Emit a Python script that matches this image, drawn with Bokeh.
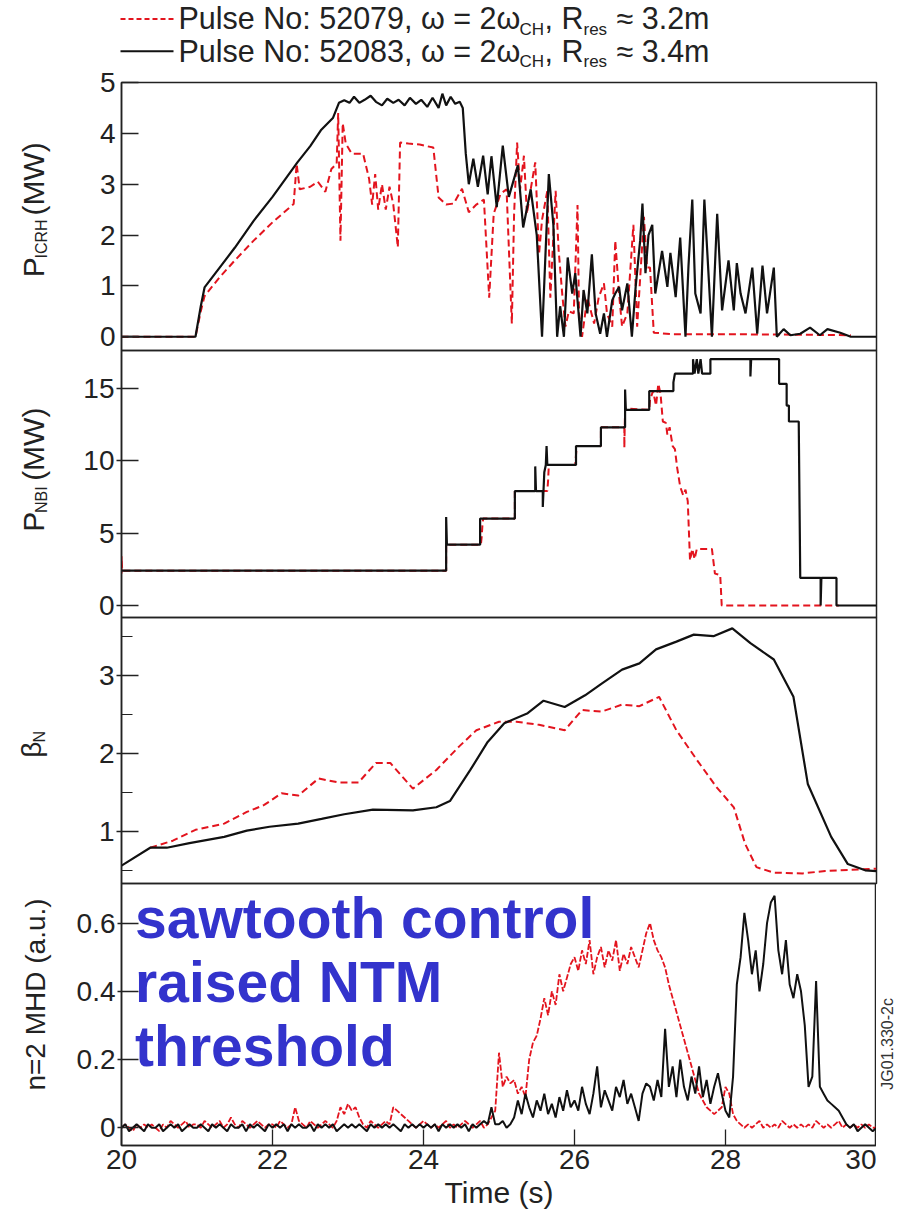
import numpy as np
from bokeh.plotting import figure
from bokeh.layouts import column, row
from bokeh.models import Range1d, FixedTicker, CustomJSTickFormatter
from bokeh.core.properties import value
from bokeh.embed import file_html
from bokeh.resources import INLINE

# ---------------- data ----------------
# P_ICRH (MW)
icrh_b_t = [20.0, 20.98, 21.05, 21.1, 21.3, 21.5, 21.75, 22.0, 22.33, 22.5, 22.64, 22.8, 22.88, 22.95,
            23.02, 23.08, 23.15, 23.22, 23.3, 23.37, 23.45, 23.52, 23.6, 23.67, 23.75, 23.82, 23.9, 23.97,
            24.05, 24.12, 24.2, 24.25, 24.3, 24.36, 24.42, 24.48, 24.52, 24.56, 24.6, 24.66, 24.72, 24.79,
            24.85, 24.9, 24.97, 25.05, 25.13, 25.25, 25.32, 25.42, 25.5, 25.57, 25.66, 25.72, 25.77, 25.81,
            25.86, 25.91, 25.97, 26.01, 26.08, 26.12, 26.17, 26.23, 26.28, 26.34, 26.39, 26.43, 26.5, 26.54,
            26.59, 26.63, 26.7, 26.76, 26.81, 26.87, 26.9, 26.94, 26.98, 27.03, 27.07, 27.16, 27.23, 27.27,
            27.34, 27.4, 27.47, 27.51, 27.56, 27.6, 27.67, 27.72, 27.78, 27.82, 27.89, 27.955, 28.04, 28.11,
            28.15, 28.2, 28.265, 28.355, 28.42, 28.49, 28.55, 28.64, 28.68, 28.77, 28.86, 28.99, 29.12,
            29.25, 29.35, 29.52, 29.66, 30.0]
icrh_b_v = [0.0, 0.0, 0.6, 0.97, 1.36, 1.75, 2.28, 2.75, 3.43, 3.75, 4.06, 4.3, 4.6, 4.65,
            4.6, 4.72, 4.6, 4.66, 4.74, 4.62, 4.55, 4.68, 4.6, 4.66, 4.55, 4.7, 4.58, 4.66,
            4.52, 4.7, 4.5, 4.78, 4.55, 4.72, 4.58, 4.62, 4.5, 3.6, 3.0, 3.5, 2.95, 3.56,
            2.8, 3.55, 2.55, 3.76, 2.75, 3.37, 2.15, 2.9, 2.0, 0.0, 3.2, 2.2, 0.0, 0.6,
            0.0, 1.56, 0.85, 1.25, 0.0, 0.92, 0.46, 1.62, 0.46, 0.06, 0.46, 0.0, 0.72, 0.85,
            0.98, 0.52, 1.05, 0.0, 0.98, 1.9, 2.62, 1.25, 2.0, 2.2, 0.85, 1.69, 0.98, 1.65,
            0.78, 1.95, 0.0, 1.4, 2.7, 0.85, 0.46, 2.7, 1.1, 0.0, 2.42, 0.52, 1.5, 0.52,
            1.45, 0.85, 0.46, 1.36, 0.06, 1.4, 0.46, 1.36, 0.0, 0.15, 0.03, 0.06, 0.18,
            0.03, 0.15, 0.08, 0.0, 0.0]

icrh_r_t = [20.0, 20.98, 21.05, 21.1, 21.3, 21.5, 21.75, 22.0, 22.28, 22.32, 22.36, 22.5, 22.6, 22.7,
            22.78, 22.85, 22.87, 22.9, 22.93, 22.97, 23.05, 23.2, 23.28, 23.32, 23.36, 23.4, 23.45, 23.5,
            23.55, 23.6, 23.66, 23.69, 23.8, 23.95, 24.13, 24.2, 24.3, 24.4, 24.51, 24.6, 24.7, 24.8,
            24.87, 24.93, 25.02, 25.1, 25.17, 25.2, 25.24, 25.28, 25.33, 25.37, 25.42, 25.48, 25.53, 25.57,
            25.64, 25.68, 25.75, 25.79, 25.84, 25.88, 25.925, 25.99, 26.04, 26.06, 26.1, 26.17, 26.26,
            26.32, 26.39, 26.43, 26.5, 26.54, 26.59, 26.63, 26.7, 26.78, 26.83, 26.92, 26.96, 27.0, 27.05,
            27.3, 28.0, 29.0, 29.66]
icrh_r_v = [0.0, 0.0, 0.5, 0.8, 1.17, 1.5, 1.89, 2.25, 2.61, 3.4, 2.9, 2.95, 3.05, 2.85,
            3.3, 3.4, 4.4, 1.89, 4.2, 3.8, 3.6, 3.6, 3.1, 2.6, 3.2, 2.5, 3.0, 2.5,
            2.95, 2.6, 1.76, 3.82, 3.8, 3.78, 3.72, 2.74, 2.6, 2.62, 2.91, 2.45, 2.6, 2.7,
            0.77, 2.42, 2.81, 2.9, 0.26, 2.42, 3.82, 2.9, 3.56, 2.42, 2.9, 3.43, 1.62, 2.3,
            2.87, 0.77, 2.87, 1.7, 0.8, 0.2, 0.5, 0.46, 2.59, 0.46, 0.0, 0.77, 0.26,
            0.77, 1.05, 0.46, 0.2, 1.89, 0.85, 0.2, 0.46, 2.2, 0.2, 2.36, 1.36, 1.36, 0.08,
            0.05, 0.05, 0.04, 0.03]

# P_NBI (MW)
nbi_b_t = [20.0, 24.30, 24.30, 24.31, 24.75, 24.75, 25.21, 25.21, 25.48, 25.48, 25.49, 25.58, 25.58,
           25.60, 25.62, 25.63, 25.64, 26.02, 26.02, 26.35, 26.35, 26.67, 26.67, 26.68, 26.99, 26.99,
           27.31, 27.31, 27.33, 27.57, 27.57, 27.59, 27.62, 27.64, 27.67, 27.69, 27.80, 27.80, 28.33,
           28.33, 28.34, 28.71, 28.71, 28.81, 28.81, 28.84, 28.84, 28.97, 28.99, 29.26, 29.26, 29.27,
           29.47, 29.47, 30.0]
nbi_b_v = [2.4, 2.4, 6.1, 4.2, 4.2, 6.0, 6.0, 7.9, 7.9, 9.6, 7.9, 7.9, 6.8,
           9.2, 9.7, 11.0, 9.7, 9.7, 11.0, 11.0, 12.3, 12.3, 14.9, 13.5, 13.5, 14.8,
           14.8, 15.4, 16.0, 16.0, 17.0, 16.0, 17.0, 16.0, 17.0, 16.0, 16.0, 17.0, 17.0,
           15.8, 17.0, 17.0, 15.3, 15.3, 13.8, 13.8, 12.7, 12.7, 1.9, 1.9, 0.0, 1.9,
           1.9, 0.0, 0.0]

nbi_r_t = [20.0, 20.0, 20.01, 24.30, 24.30, 24.76, 24.77, 24.78, 24.79, 25.21, 25.21, 25.64, 25.65,
           25.66, 26.01, 26.02, 26.03, 26.35, 26.35, 26.66, 26.66, 26.67, 26.99, 27.0, 27.04, 27.08,
           27.11, 27.14, 27.17, 27.21, 27.23, 27.26, 27.3, 27.33, 27.36, 27.4, 27.44, 27.47, 27.5,
           27.53, 27.56, 27.59, 27.62, 27.82, 27.86, 27.93, 27.95, 29.5]
nbi_r_v = [2.2, 3.4, 2.4, 2.4, 4.2, 4.2, 4.7, 5.5, 6.0, 6.0, 7.9, 7.9, 8.6,
           9.7, 9.7, 10.4, 11.0, 11.0, 12.3, 12.3, 10.9, 13.6, 13.5, 14.2, 14.8, 13.8,
           15.3, 14.6, 12.7, 12.6, 11.8, 12.3, 11.0, 10.8, 9.5, 8.2, 7.6, 8.0, 7.2,
           3.1, 3.9, 3.2, 3.9, 3.9, 2.2, 2.1, 0.0, 0.0]

# beta_N
beta_b_t = [20.0, 20.38, 20.6, 20.9, 21.36, 21.66, 21.96, 22.34, 22.65, 22.95, 23.33, 23.86, 24.17,
            24.35, 24.62, 24.85, 25.07, 25.38, 25.59, 25.87, 26.14, 26.36, 26.63, 26.86, 27.08, 27.35,
            27.58, 27.84, 28.09, 28.33, 28.64, 28.9, 29.09, 29.4, 29.62, 29.85, 30.0]
beta_b_v = [0.56, 0.79, 0.79, 0.85, 0.93, 1.01, 1.06, 1.10, 1.16, 1.22, 1.28, 1.27, 1.31,
            1.39, 1.79, 2.15, 2.39, 2.52, 2.68, 2.60, 2.75, 2.90, 3.08, 3.16, 3.34, 3.44,
            3.53, 3.51, 3.61, 3.42, 3.21, 2.73, 1.61, 0.93, 0.58, 0.50, 0.49]

beta_r_t = [20.38, 20.68, 20.98, 21.36, 21.66, 21.89, 22.12, 22.34, 22.61, 22.87, 23.14, 23.37, 23.56,
            23.86, 24.17, 24.47, 24.70, 25.0, 25.23, 25.53, 25.87, 26.10, 26.36, 26.63, 26.86, 27.12,
            27.35, 27.62, 27.88, 28.11, 28.26, 28.41, 28.64, 29.02, 29.32, 29.78, 30.0]
beta_r_v = [0.79, 0.88, 1.02, 1.10, 1.25, 1.34, 1.49, 1.46, 1.68, 1.63, 1.63, 1.88, 1.88,
            1.55, 1.79, 2.09, 2.30, 2.41, 2.41, 2.37, 2.30, 2.56, 2.54, 2.63, 2.61, 2.73,
            2.30, 1.92, 1.57, 1.31, 0.84, 0.54, 0.47, 0.46, 0.49, 0.51, 0.52]

# n=2 MHD (a.u.), sampled every 0.05 s from 20 s to 30 s (values x 0.01)
mhd_t0, mhd_dt = 20.0, 0.05
mhd_b = [0, 1, -1, 0, 1, 0, -1, 1, 0, 0, 1, -1, 0, 1, 0, 1, -1, 0, 1, 0,
         0, 1, 0, -1, 1, 0, 1, 0, -1, 1, 0, 0, 1, -1, 1, 0, 1, 0, -1, 1,
         0, 1, 0, 1, -1, 1, 0, 1, 0, 0, 1, -1, 1, 0, 1, 0, 1, -1, 0, 1,
         0, 1, 0, 1, 0, -1, 1, 0, 1, 0, 1, 0, 1, 0, -1, 1, 0, 1, 0, 1,
         0, 1, 0, 1, -1, 1, 0, 1, 0, 1, 0, 1, -1, 1, 0, 1, 2, 1, 6, 1,
         1, 2, 0, 1, 3, 8, 4, 10, 6, 3, 8, 5, 10, 4, 7, 3, 9, 5, 11, 6,
         8, 5, 12, 7, 4, 10, 18, 6, 11, 8, 5, 12, 9, 14, 7, 10, 6, 2, 10, 13,
         12, 8, 14, 9, 29, 12, 18, 9, 20, 12, 8, 15, 10, 18, 9, 14, 7, 12, 16, 10,
         5, 3, 15, 42, 50, 63, 55, 45, 52, 40, 48, 60, 66, 68, 52, 45, 55, 42, 38, 45,
         40, 30, 12, 15, 43, 12, 10, 8, 7, 6, 5, 3, 1, 0, 1, -1, 0, 1, 0, -1,
         0]
mhd_r = [0, 1, 0, -1, 1, 0, 1, 0, 1, 0, -1, 1, 0, 2, 1, 0, 1, 2, 0, 1,
         1, 0, 2, 1, 0, 1, 2, 0, 1, 3, 1, 0, 2, 1, 0, 1, 2, 1, 0, 1,
         1, 0, 2, 1, 0, 1, 6, 2, 1, 0, 2, 1, 0, 1, 2, 1, 0, 2, 6, 4,
         7, 5, 6, 3, 1, 0, 2, 1, 0, 1, 2, 1, 6, 5, 4, 3, 2, 1, 0, 1,
         2, 1, 0, 1, 0, 1, 2, 0, 1, 0, 1, 2, 1, 0, 1, 2, 0, 1, 3, 5,
         22, 12, 15, 13, 14, 10, 12, 9, 20, 25, 27, 32, 38, 33, 40, 36, 45, 40, 44, 48,
         50, 46, 52, 48, 55, 45, 50, 53, 47, 52, 49, 55, 46, 51, 48, 53, 50, 47, 52, 57,
         60, 55, 52, 50, 47, 42, 38, 34, 30, 26, 22, 18, 14, 10, 8, 6, 5, 4, 5, 6,
         12, 10, 4, 2, 1, 0, 1, 0, 1, 2, 0, 1, 0, 1, 0, 2, 1, 0, 1, 0,
         1, 0, 1, 0, 2, 1, 0, 1, 0, 1, 2, 0, 1, 0, 1, 0, 1, 0, 1, 0,
         0]

x_ticks = [20, 22, 24, 26, 28, 30]
icrh_ticks = [0, 1, 2, 3, 4, 5]
nbi_ticks = [0, 5, 10, 15]
beta_ticks = [1, 2, 3]
beta_minor = [0.5, 1.5, 2.5, 3.5]
mhd_ticks = [0, 0.2, 0.4, 0.6]

legend_1 = ["Pulse No: 52079, \u03c9 = 2\u03c9", "CH", ", R", "res", "\u2248 3.2m"]
legend_2 = ["Pulse No: 52083, \u03c9 = 2\u03c9", "CH", ", R", "res", "\u2248 3.4m"]
note_lines = ["sawtooth control", "raised NTM", "threshold"]

# ---------------- style / layout ----------------
RED = "#e3141e"
BLACK = "#111111"
BLUE = "#3333cc"
TXT = "#222222"
FONT = "Liberation Sans"
W = 899
STRIP = 64          # left strip holding the rotated axis titles
FL, FR = 121, 23    # frame edges
ROT = np.pi / 2
PAD = 16            # transparent overlap border above/below each frame
FH1, FH2, FH3, FH4 = 268, 267, 266, 262
BOT4 = 69
LEG_H = 82
MID = 0.35          # distance baseline -> text middle, in em

xr = Range1d(20, 30)


def clear(p):
    p.xgrid.visible = False
    p.ygrid.visible = False
    p.background_fill_alpha = 0
    p.border_fill_alpha = 0


def strip_fig(width, height):
    s = figure(width=width, height=height, x_range=Range1d(0, width), y_range=Range1d(0, height),
               output_backend="svg", toolbar_location=None, title=None, min_border=0,
               x_axis_location=None, y_axis_location=None)
    clear(s)
    s.outline_line_color = None
    return s


def put(p, txt, x, y, size, angle=0.0, align="left", color=TXT, style="normal"):
    # (x, y) is the alphabetic baseline point; text is drawn with a middle baseline
    if angle == 0.0:
        y = y + MID * size
    else:
        x = x - MID * size
    p.text(x=[x], y=[y], text=[txt], angle=angle, text_font=value(FONT),
           text_font_size=value(f"{size}px"), text_align=align, text_baseline="middle",
           text_color=color, text_font_style=style)


def make_fig(frame_h, yr, ticks, bottom=PAD, xaxis=False, tick_out=5, right=FR):
    p = figure(width=W - STRIP - (FR - right), height=frame_h + PAD + bottom, x_range=xr,
               y_range=Range1d(*yr), output_backend="svg", toolbar_location=None, title=None,
               min_border_left=FL - STRIP, min_border_right=right,
               min_border_top=PAD, min_border_bottom=bottom,
               x_axis_location="below" if xaxis else None)
    clear(p)
    p.outline_line_color = TXT
    p.outline_line_width = 1.5
    ya = p.yaxis[0]
    ya.ticker = FixedTicker(ticks=ticks)
    ya.major_tick_in = 17
    ya.major_tick_out = tick_out
    ya.minor_tick_line_color = None
    ya.major_tick_line_color = TXT
    ya.major_tick_line_width = 1.3
    ya.axis_line_color = TXT
    ya.axis_line_width = 1.5
    ya.major_label_text_font = FONT
    ya.major_label_text_font_size = "28px"
    ya.major_label_text_color = TXT
    ya.major_label_standoff = 2 if tick_out else 6
    return p


# legend strip on top (y measured upward from its bottom edge)
leg = strip_fig(W, LEG_H)
piece_x = [178, 519, 544, 583, 616]
piece_size = [30.5, 17, 30.5, 17, 30.5]
piece_dy = [0, -6, 0, -6, 0]
for pieces, base, color, dash in [(legend_1, 53.5, RED, "5 3"), (legend_2, 21.3, BLACK, "solid")]:
    leg.line(x=[120, 173], y=[base + 10, base + 10], line_color=color, line_width=2, line_dash=dash)
    for txt, xx, sz, dy in zip(pieces, piece_x, piece_size, piece_dy):
        put(leg, txt, xx, base + dy, sz)

# panel 1: ICRH
p1 = make_fig(FH1, (-0.27, 5.0), icrh_ticks, tick_out=0)
p1.line(icrh_r_t, icrh_r_v, line_color=RED, line_width=2, line_dash="7 4")
p1.line(icrh_b_t, icrh_b_v, line_color=BLACK, line_width=2.2)
s1 = strip_fig(STRIP, FH1 + 2 * PAD)
put(s1, "P", 43, 82, 30, ROT)
put(s1, "ICRH", 47, 103, 16, ROT)
put(s1, "(MW)", 43, 151, 30, ROT)

# panel 2: NBI
p2 = make_fig(FH2, (-0.83, 17.6), nbi_ticks)
p2.line(nbi_r_t, nbi_r_v, line_color=RED, line_width=2, line_dash="7 4")
p2.line(nbi_b_t, nbi_b_v, line_color=BLACK, line_width=2.2)
s2 = strip_fig(STRIP, FH2 + 2 * PAD)
put(s2, "P", 43, 96, 30, ROT)
put(s2, "NBI", 47, 117, 16, ROT)
put(s2, "(MW)", 43, 153, 30, ROT)

# panel 3: beta_N
p3 = make_fig(FH3, (0.33, 3.75), beta_ticks)
ya3 = p3.yaxis[0]
ya3.ticker = FixedTicker(ticks=beta_ticks, minor_ticks=beta_minor)
ya3.minor_tick_line_color = TXT
ya3.minor_tick_in = 11
ya3.minor_tick_out = 0
ya3.minor_tick_line_width = 1.2
p3.line(beta_r_t, beta_r_v, line_color=RED, line_width=2, line_dash="7 4")
p3.line(beta_b_t, beta_b_v, line_color=BLACK, line_width=2.2)
s3 = strip_fig(STRIP, FH3 + 2 * PAD)
put(s3, "\u03b2", 41, 141, 28, ROT)
put(s3, "N", 45, 158, 16, ROT)

# panel 4: MHD
p4 = make_fig(FH4, (-0.052, 0.716), mhd_ticks, bottom=BOT4, xaxis=True, tick_out=4, right=0)
p4.yaxis[0].formatter = CustomJSTickFormatter(code="return tick == 0 ? '0' : tick.toFixed(1);")
xa = p4.xaxis[0]
xa.ticker = FixedTicker(ticks=x_ticks)
xa.major_tick_in = 16
xa.major_tick_out = 0
xa.minor_tick_line_color = None
xa.major_tick_line_color = TXT
xa.major_tick_line_width = 1.3
xa.axis_line_color = TXT
xa.axis_line_width = 1.5
xa.major_label_text_font = FONT
xa.major_label_text_font_size = "28px"
xa.major_label_text_color = TXT
xa.major_label_standoff = 4
xa.axis_label = "Time (s)"
xa.axis_label_text_font = FONT
xa.axis_label_text_font_size = "30px"
xa.axis_label_text_font_style = "normal"
xa.axis_label_text_color = TXT
xa.axis_label_standoff = 4

mhd_t = mhd_t0 + mhd_dt * np.arange(len(mhd_b))
p4.line(mhd_t, np.array(mhd_r) / 100.0, line_color=RED, line_width=1.8, line_dash="6 2")
p4.line(mhd_t, np.array(mhd_b) / 100.0, line_color=BLACK, line_width=2.0)
note_base = [0.555, 0.368, 0.182]      # baseline of each annotation line (MHD axis units)
p4.text(x=[20.18] * 3, y=note_base, text=note_lines, y_offset=-MID * 57,
        text_font=value(FONT), text_font_size=value("57px"), text_font_style="bold",
        text_color=BLUE, text_baseline="middle", text_align="left")
s4 = strip_fig(STRIP, FH4 + PAD + BOT4)
put(s4, "n=2 MHD (a.u.)", 45, 200, 28, ROT, align="center")
r4 = strip_fig(FR, FH4 + PAD + BOT4)
put(r4, "JG01.330-2c", 17, 74, 16, ROT, color="#333333")

layout = column(leg,
                row(s1, p1, spacing=0, margin=(-PAD, 0, 0, 0)),
                row(s2, p2, spacing=0, margin=(-2 * PAD, 0, 0, 0)),
                row(s3, p3, spacing=0, margin=(-2 * PAD, 0, 0, 0)),
                row(s4, p4, r4, spacing=0, margin=(-2 * PAD, 0, 0, 0)),
                spacing=0)
open("out.html", "w").write(file_html(layout, INLINE))
